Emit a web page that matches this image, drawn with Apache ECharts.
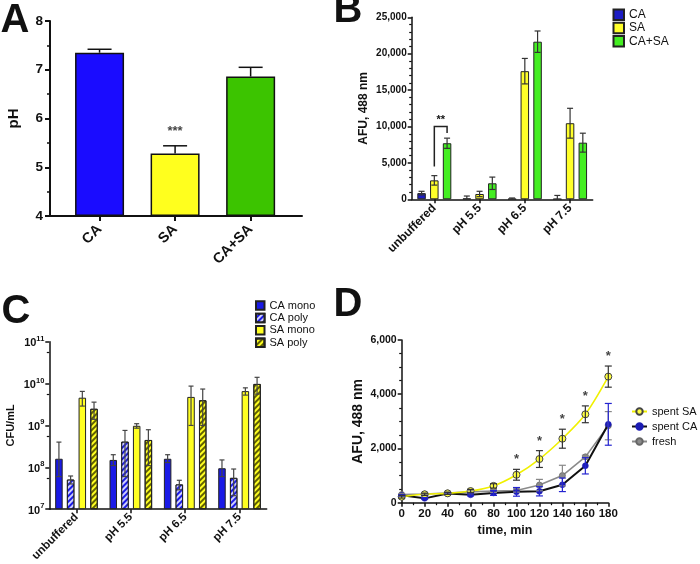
<!DOCTYPE html>
<html><head><meta charset="utf-8">
<script src="https://cdn.jsdelivr.net/npm/echarts@6/dist/echarts.min.js"></script>
<style>html,body{margin:0;padding:0;background:#fff}#c{width:700px;height:564px}</style>
</head><body><div id="c"></div>
<script>
// ---------- Panel A: pH ----------
var catsA = ['CA', 'SA', 'CA+SA'];
var phMean = [7.35, 5.28, 6.86];
var phErr = [0.07, 0.16, 0.19];
var sigA = ['', '***', ''];
var ticksA = [4, 5, 6, 7, 8];

// ---------- Panel B: AFU by buffer ----------
var catsB = ['unbuffered', 'pH 5.5', 'pH 6.5', 'pH 7.5'];
var afuCA = [850, 100, 50, 30];
var errCA = [250, 350, 130, 500];
var afuSA = [2600, 730, 17600, 10450];
var errSA = [650, 370, 1750, 2050];
var afuCASA = [7700, 2200, 21650, 7780];
var errCASA = [700, 850, 1470, 1300];
var ticksB = [0, 5000, 10000, 15000, 20000, 25000];
// bracket: category, from bar, to bar, top, left end, right end
var bracketB = [0, 1, 2, 10000, 4500, 9100];
var sigB = '**';

// ---------- Panel C: CFU/mL (log) ----------
var catsC = ['unbuffered', 'pH 5.5', 'pH 6.5', 'pH 7.5'];
var caMono = [1.6e8, 1.5e8, 1.6e8, 9.5e7];
var caMonoHi = [4.0e8, 2.0e8, 2.0e8, 1.5e8];
var caMonoLo = [6e7, 1.1e8, 1.3e8, 6e7];
var caPoly = [5.1e7, 4.1e8, 3.9e7, 5.6e7];
var caPolyHi = [6.2e7, 7.6e8, 4.9e7, 9.1e7];
var caPolyLo = [4.0e7, 6e7, 2.9e7, 2.1e7];
var saMono = [4.6e9, 9.8e8, 4.8e9, 6.6e9];
var saMonoHi = [6.5e9, 1.1e9, 8.7e9, 7.9e9];
var saMonoLo = [2.9e9, 8.6e8, 1.0e9, 5.3e9];
var saPoly = [2.5e9, 4.5e8, 4.0e9, 9.8e9];
var saPolyHi = [3.6e9, 7.9e8, 7.4e9, 1.41e10];
var saPolyLo = [1.4e9, 1.1e8, 1.0e9, 5.6e9];
var ticksC = [1e7, 1e8, 1e9, 1e10, 1e11];

// ---------- Panel D: time course ----------
var timeD = [0, 20, 40, 60, 80, 100, 120, 140, 160, 180];
var spentSA = [220, 310, 345, 430, 620, 1030, 1610, 2360, 3260, 4650];
var errSpentSA = [50, 40, 40, 60, 80, 200, 310, 350, 310, 390];
var spentCA = [270, 160, 340, 290, 360, 400, 420, 660, 1360, 2890];
var errSpentCA = [30, 30, 30, 40, 90, 160, 170, 250, 300, 770];
var fresh = [300, 320, 360, 400, 430, 450, 650, 1000, 1690, 2840];
var errFresh = [30, 30, 30, 40, 50, 60, 210, 380, 60, 520];
var sigD = ['', '', '', '', '', '*', '*', '*', '*', '*'];
var ticksDx = [0, 20, 40, 60, 80, 100, 120, 140, 160, 180];
var ticksDy = [0, 2000, 4000, 6000];

// ---------- styling ----------
var FONT = "'Liberation Sans', Arial, Helvetica, sans-serif";
var INK = '#111';
var colorsA = ['#1a0cff', '#ffff1e', '#3cc400'];
var colB = {CA: '#1c1cc4', SA: '#ffff2a', CASA: '#44ee22'};
var colC = {blue: '#1a1ae6', yellow: '#ffff22'};
var stepB = 8.5 * 1.5;
var stepC = 7.5 * 1.56;

function fmtComma(v) { return v.toLocaleString('en-US'); }

function makeErr(o) {
  return {
    type: 'custom', xAxisIndex: o.axis, yAxisIndex: o.axis, z: 6, silent: true,
    data: o.data,
    renderItem: function (params, api) {
      var x = api.value(0), lo = api.value(1), hi = api.value(2);
      var off = (o.k - (o.n - 1) / 2) * o.step;
      var a = api.coord([x, hi]), b = api.coord([x, lo]);
      var cx = a[0] + off, h = o.cap / 2;
      var st = {stroke: o.color, lineWidth: o.width};
      var ch = [
        {type: 'line', shape: {x1: cx, y1: a[1], x2: cx, y2: b[1]}, style: st},
        {type: 'line', shape: {x1: cx - h, y1: a[1], x2: cx + h, y2: a[1]}, style: st}
      ];
      if (!o.upperOnly) ch.push({type: 'line', shape: {x1: cx - h, y1: b[1], x2: cx + h, y2: b[1]}, style: st});
      return {type: 'group', children: ch};
    }
  };
}
function symErr(mean, err, floor) {
  return mean.map(function (m, i) { return [i, Math.max(floor, m - err[i]), m + err[i]]; });
}
function loHi(lo, hi) {
  return lo.map(function (l, i) { return [i, l, hi[i]]; });
}

function baseAxisLine(w) { return {show: true, onZero: false, lineStyle: {color: INK, width: w}}; }
function tickStyle(len, w) { return {show: true, length: len, lineStyle: {color: INK, width: w}}; }
function lbl(size, extra) {
  var o = {color: INK, fontWeight: 'bold', fontSize: size, fontFamily: FONT};
  for (var k in extra) o[k] = extra[k];
  return o;
}

var decalCA = {symbol: 'rect', symbolSize: 1, color: 'rgba(225,225,255,0.9)', dashArrayX: [1, 0], dashArrayY: [1.4, 1.8], rotation: -Math.PI / 4};
var decalSA = {symbol: 'rect', symbolSize: 1, color: 'rgba(80,80,0,0.9)', dashArrayX: [1, 0], dashArrayY: [1.4, 1.8], rotation: -Math.PI / 4};

var option = {
  animation: false,
  backgroundColor: '#fff',
  textStyle: {fontFamily: FONT},
  graphic: [
    {type: 'text', x: 15, y: 21, style: {text: 'A', font: 'bold 40px ' + FONT, fill: INK, align: 'center', verticalAlign: 'middle'}},
    {type: 'text', x: 348, y: 11, style: {text: 'B', font: 'bold 40px ' + FONT, fill: INK, align: 'center', verticalAlign: 'middle'}},
    {type: 'text', x: 16, y: 312, style: {text: 'C', font: 'bold 40px ' + FONT, fill: INK, align: 'center', verticalAlign: 'middle'}},
    {type: 'text', x: 348, y: 305, style: {text: 'D', font: 'bold 40px ' + FONT, fill: INK, align: 'center', verticalAlign: 'middle'}}
  ],
  grid: [
    {left: 50, top: 21, width: 252, height: 195},
    {left: 411.7, top: 17.3, width: 181, height: 182},
    {left: 49.3, top: 341.7, width: 217.4, height: 171.6},
    {left: 401.7, top: 340, width: 206.6, height: 162.7}
  ],
  legend: [
    {data: ['CA', 'SA', 'CA+SA'], orient: 'vertical', left: 612.5, top: 8.5, padding: 0, icon: 'rect',
     itemWidth: 10.5, itemHeight: 10.5, itemGap: 0.8, selectedMode: false,
     textStyle: {fontSize: 12, lineHeight: 10.5, color: INK, fontFamily: FONT}},
    {data: ['CA mono', 'CA poly', 'SA mono', 'SA poly'], orient: 'vertical', left: 255, top: 300, padding: 0, icon: 'rect',
     itemWidth: 8.5, itemHeight: 8.5, itemGap: 1.4, selectedMode: false,
     textStyle: {fontSize: 11, lineHeight: 8.5, color: INK, fontFamily: FONT}},
    {data: ['spent SA', 'spent CA', 'fresh'], orient: 'vertical', left: 631, top: 406, padding: 0,
     itemWidth: 15, itemHeight: 8, itemGap: 4, selectedMode: false,
     textStyle: {fontSize: 11, lineHeight: 10, color: INK, fontFamily: FONT}}
  ],
  xAxis: [
    {gridIndex: 0, type: 'value', min: -0.656, max: 2.68, splitLine: {show: false},
     axisLine: baseAxisLine(2), axisTick: {show: true, length: 5, customValues: [0, 1, 2], lineStyle: {color: INK, width: 2}},
     axisLabel: lbl(14.5, {customValues: [0, 1, 2], rotate: 45, margin: 11, formatter: function (v) { return catsA[Math.round(v)]; }})},
    {gridIndex: 1, type: 'category', data: catsB, axisLine: baseAxisLine(1.5),
     axisTick: {show: true, alignWithLabel: true, length: 4, lineStyle: {color: INK, width: 1.5}},
     axisLabel: lbl(12, {interval: 0, rotate: 45, margin: 7})},
    {gridIndex: 2, type: 'category', data: catsC, axisLine: baseAxisLine(1.5),
     axisTick: {show: true, alignWithLabel: true, length: 4, lineStyle: {color: INK, width: 1.5}},
     axisLabel: lbl(11.5, {interval: 0, rotate: 45, margin: 6})},
    {gridIndex: 3, type: 'value', min: ticksDx[0], max: ticksDx[ticksDx.length - 1], interval: ticksDx[1] - ticksDx[0],
     splitLine: {show: false}, axisLine: baseAxisLine(1.5), axisTick: tickStyle(4, 1.5),
     minorTick: {show: true, splitNumber: 2, length: 2.5, lineStyle: {color: INK, width: 1.2}},
     axisLabel: lbl(11.5, {margin: 5}),
     name: 'time, min', nameLocation: 'middle', nameGap: 21, nameTextStyle: lbl(12.5, {})}
  ],
  yAxis: [
    {gridIndex: 0, type: 'value', min: ticksA[0], max: ticksA[ticksA.length - 1], interval: 1, startValue: ticksA[0],
     splitLine: {show: false}, axisLine: baseAxisLine(2), axisTick: tickStyle(5, 2),
     minorTick: {show: true, splitNumber: 2, length: 3, lineStyle: {color: INK, width: 1.5}},
     axisLabel: lbl(13.5, {margin: 7}),
     name: 'pH', nameLocation: 'middle', nameGap: 29, nameTextStyle: lbl(15, {})},
    {gridIndex: 1, type: 'value', min: 0, max: 25000, interval: 5000,
     splitLine: {show: false}, axisLine: baseAxisLine(1.5), axisTick: tickStyle(4, 1.5),
     minorTick: {show: true, splitNumber: 5, length: 2.5, lineStyle: {color: INK, width: 1.2}},
     axisLabel: lbl(10, {margin: 5, formatter: fmtComma}),
     name: 'AFU, 488 nm', nameLocation: 'middle', nameGap: 42, nameTextStyle: lbl(12, {})},
    {gridIndex: 2, type: 'log', logBase: 10, min: ticksC[0], max: ticksC[ticksC.length - 1], startValue: ticksC[0],
     splitLine: {show: false}, axisLine: baseAxisLine(1.5), axisTick: tickStyle(4, 1.5),
     minorTick: {show: true, splitNumber: 2, length: 2.5, lineStyle: {color: INK, width: 1.2}},
     axisLabel: {margin: 5, color: INK,
       formatter: function (v) { return '{b|10}{s|' + Math.round(Math.log10(v)) + '}'; },
       rich: {b: {fontSize: 11, fontWeight: 'bold', fontFamily: FONT, color: INK, verticalAlign: 'bottom', lineHeight: 14},
              s: {fontSize: 7.5, fontWeight: 'bold', fontFamily: FONT, color: INK, verticalAlign: 'top', lineHeight: 9}}},
     name: 'CFU/mL', nameLocation: 'middle', nameGap: 33, nameTextStyle: lbl(11, {})},
    {gridIndex: 3, type: 'value', min: ticksDy[0], max: ticksDy[ticksDy.length - 1], interval: ticksDy[1] - ticksDy[0],
     splitLine: {show: false}, axisLine: baseAxisLine(1.5), axisTick: tickStyle(4, 1.5),
     minorTick: {show: true, splitNumber: 4, length: 2.5, lineStyle: {color: INK, width: 1.2}},
     axisLabel: lbl(10.5, {margin: 5, formatter: fmtComma}),
     name: 'AFU, 488 nm', nameLocation: 'middle', nameGap: 37, nameTextStyle: lbl(14, {})}
  ],
  series: []
};

var S = option.series;
// ---- A ----
S.push({name: 'pH', type: 'bar', xAxisIndex: 0, yAxisIndex: 0, barWidth: 49,
  data: phMean.map(function (m, i) { return {value: [i, m], itemStyle: {color: colorsA[i]}}; }),
  itemStyle: {borderColor: INK, borderWidth: 1.5}});
S.push(makeErr({axis: 0, k: 0, n: 1, step: 0, cap: 24, color: INK, width: 1.5, upperOnly: true,
  data: phMean.map(function (m, i) { return [i, m, m + phErr[i]]; })}));
S.push({name: 'sigA', type: 'scatter', xAxisIndex: 0, yAxisIndex: 0, symbolSize: 0.1, itemStyle: {color: 'transparent'}, silent: true,
  data: phMean.map(function (m, i) { return [i, m + phErr[i]]; }),
  label: {show: true, position: 'top', distance: 8, fontSize: 13, fontWeight: 'bold', color: INK, fontFamily: FONT,
    formatter: function (p) { return sigA[p.dataIndex]; }}});

// ---- B ----
var bSeries = [['CA', afuCA, errCA, colB.CA], ['SA', afuSA, errSA, colB.SA], ['CA+SA', afuCASA, errCASA, colB.CASA]];
bSeries.forEach(function (s, k) {
  S.push({name: s[0], type: 'bar', xAxisIndex: 1, yAxisIndex: 1, barWidth: 8.5, barGap: '50%', data: s[1],
    itemStyle: {color: s[3], borderColor: '#222', borderWidth: 1}});
});
bSeries.forEach(function (s, k) {
  S.push(makeErr({axis: 1, k: k, n: 3, step: stepB, cap: 6, color: '#333', width: 1.2, data: symErr(s[1], s[2], 0)}));
});
S.push({type: 'custom', xAxisIndex: 1, yAxisIndex: 1, z: 7, silent: true, data: [bracketB],
  renderItem: function (params, api) {
    var c = api.value(0);
    var t = api.coord([c, api.value(3)]), l = api.coord([c, api.value(4)]), r = api.coord([c, api.value(5)]);
    var xl = t[0] + (api.value(1) - 1) * stepB, xr = t[0] + (api.value(2) - 1) * stepB;
    var st = {stroke: '#222', lineWidth: 1.5, fill: null};
    return {type: 'group', children: [
      {type: 'polyline', shape: {points: [[xl, l[1]], [xl, t[1]], [xr, t[1]], [xr, r[1]]]}, style: st},
      {type: 'text', x: (xl + xr) / 2, y: t[1] - 1, style: {text: sigB, align: 'center', verticalAlign: 'bottom', font: 'bold 11px ' + FONT, fill: INK}}
    ]};
  }});

// ---- C ----
var cSeries = [['CA mono', caMono, caMonoLo, caMonoHi, colC.blue, null],
               ['CA poly', caPoly, caPolyLo, caPolyHi, colC.blue, decalCA],
               ['SA mono', saMono, saMonoLo, saMonoHi, colC.yellow, null],
               ['SA poly', saPoly, saPolyLo, saPolyHi, colC.yellow, decalSA]];
cSeries.forEach(function (s, k) {
  var is = {color: s[4], borderColor: '#222', borderWidth: 1};
  if (s[5]) is.decal = s[5];
  S.push({name: s[0], type: 'bar', xAxisIndex: 2, yAxisIndex: 2, barWidth: 7.5, barGap: '56%', data: s[1], itemStyle: is});
});
cSeries.forEach(function (s, k) {
  S.push(makeErr({axis: 2, k: k, n: 4, step: stepC, cap: 5, color: '#444', width: 1.2, data: loHi(s[2], s[3])}));
});

// ---- D ----
function pts(arr) { return timeD.map(function (t, i) { return [t, arr[i]]; }); }
function errPts(arr, e) { return timeD.map(function (t, i) { return [t, arr[i] - e[i], arr[i] + e[i]]; }); }
S.push({name: 'fresh', type: 'line', xAxisIndex: 3, yAxisIndex: 3, data: pts(fresh), symbol: 'circle', symbolSize: 6,
  lineStyle: {color: '#8a8a8a', width: 1.6}, itemStyle: {color: '#8c8c8c', borderColor: '#666', borderWidth: 0.8}, z: 3});
S.push({name: 'spent CA', type: 'line', xAxisIndex: 3, yAxisIndex: 3, data: pts(spentCA), symbol: 'circle', symbolSize: 6,
  lineStyle: {color: '#111', width: 2}, itemStyle: {color: '#1c1cb4', borderColor: '#1c1cb4', borderWidth: 0.5}, z: 4});
S.push({name: 'spent SA', type: 'line', xAxisIndex: 3, yAxisIndex: 3, data: pts(spentSA), smooth: 0.3, symbol: 'circle', symbolSize: 7,
  lineStyle: {color: '#f0f000', width: 1.6}, itemStyle: {color: '#ffff40', borderColor: '#444', borderWidth: 1}, z: 5});
S.push(makeErr({axis: 3, k: 0, n: 1, step: 0, cap: 7, color: '#888', width: 1.2, data: errPts(fresh, errFresh)}));
S.push(makeErr({axis: 3, k: 0, n: 1, step: 0, cap: 7, color: '#2424d0', width: 1.2, data: errPts(spentCA, errSpentCA)}));
S.push(makeErr({axis: 3, k: 0, n: 1, step: 0, cap: 7, color: '#333', width: 1.2, data: errPts(spentSA, errSpentSA)}));
S.push({name: 'sigD', type: 'scatter', xAxisIndex: 3, yAxisIndex: 3, symbolSize: 0.1, itemStyle: {color: 'transparent'}, silent: true,
  data: timeD.map(function (t, i) { return [t, spentSA[i] + errSpentSA[i]]; }),
  label: {show: true, position: 'top', distance: 3, fontSize: 13, fontWeight: 'bold', color: INK, fontFamily: FONT,
    formatter: function (p) { return sigD[p.dataIndex]; }}});

var chart = echarts.init(document.getElementById('c'), null, {renderer: 'canvas'});
chart.setOption(option);
</script>
</body></html>
